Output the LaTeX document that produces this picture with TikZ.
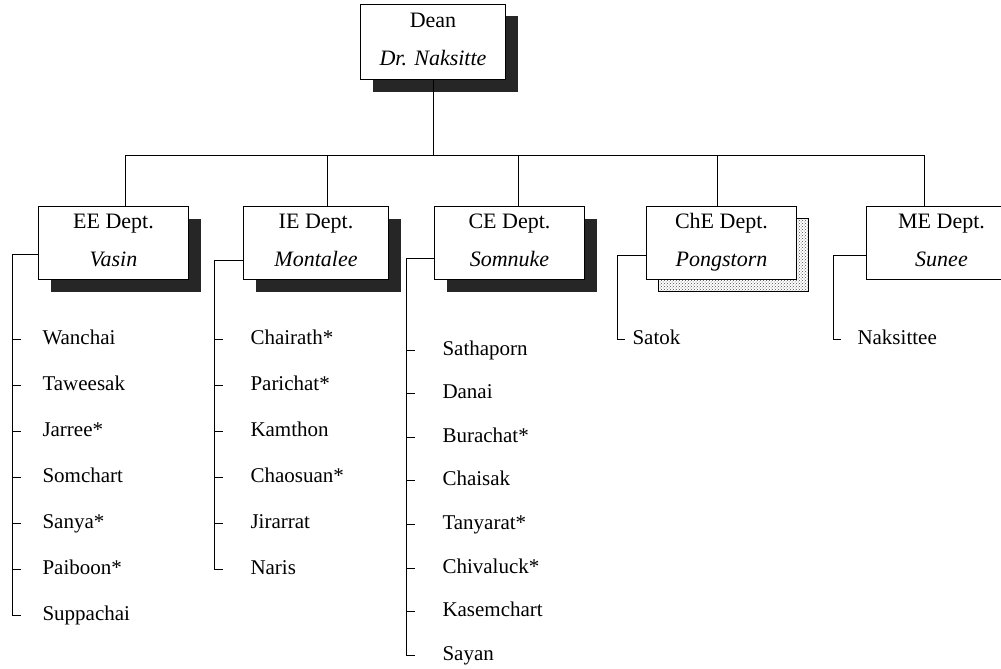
\documentclass[tikz,border=0pt]{standalone}
\usepackage{fontspec}
\setmainfont{Liberation Serif}
\usetikzlibrary{chains,positioning,shadows,patterns}
\newcommand{\lowpad}[1]{\rule[-#1]{0pt}{#1}}

\begin{document}
\begin{tikzpicture}[x=1pt,y=1pt]
\tikzset{every path/.style={line width=1pt},
deptbox/.style={draw,fill=white,minimum width=150pt,minimum height=73pt,
inner sep=0pt,align=center,font=\fontsize{22}{26}\selectfont},
darkshadow/.style={drop shadow={shadow xshift=12pt,shadow yshift=-12pt,
fill=black!85,opacity=1}},
dotshadow/.style={drop shadow={shadow xshift=12pt,shadow yshift=-12pt,
opacity=1,draw=black,line width=0.6pt,pattern=crosshatch dots,pattern color=black!70}},
member/.style={text width=130pt,align=left,inner sep=0pt,
text height=15pt,text depth=5pt,font=\fontsize{21}{24}\selectfont}}
\useasboundingbox (0,0) rectangle (1001,-669);

\node[deptbox,darkshadow,anchor=north west,minimum width=145pt,minimum height=75pt]
 (dean) at (360,-4) {Dean\\[12pt]\textit{Dr. Naksitte}\lowpad{6pt}};

\node[deptbox,darkshadow,anchor=north west] (ee) at (38,-206) {EE Dept.\\[12pt]\textit{Vasin}\lowpad{6pt}};
\node[deptbox,darkshadow,minimum width=145pt,right=54pt of ee] (ie) {IE Dept.\\[12pt]\textit{Montalee}\lowpad{6pt}};
\node[deptbox,darkshadow,right=45pt of ie] (ce) {CE Dept.\\[12pt]\textit{Somnuke}\lowpad{6pt}};
\node[deptbox,dotshadow,right=61pt of ce] (che) {ChE Dept.\\[12pt]\textit{Pongstorn}\lowpad{6pt}};
\node[deptbox,right=69pt of che] (me) {ME Dept.\\[12pt]\textit{Sunee}\lowpad{6pt}};

% bus line
\coordinate (b-ee) at (125,-155);
\coordinate (b-ie) at (327,-155);
\coordinate (b-ce) at (518,-155);
\coordinate (b-che) at (717,-155);
\coordinate (b-me) at (924,-155);
\coordinate (bus) at (dean.south |- b-ee);

\path[draw] (dean.south) -- (bus)
(b-ee) -- (b-me)
(b-ee) -- (b-ee |- ee.north)
(b-ie) -- (b-ie |- ie.north)
(b-ce) -- (b-ce |- ce.north)
(b-che) -- (b-che |- che.north)
(b-me) -- (b-me |- me.north);

\begin{scope}[start chain=going below,node distance=0pt,
every node/.append style={on chain,minimum height=45pt}]
\node[member,anchor=west] (ee1) at (42,-339) {Wanchai};
\node[member] (ee2) {Taweesak};
\node[member] (ee3) {Jarree*};
\node[member] (ee4) {Somchart};
\node[member] (ee5) {Sanya*};
\node[member] (ee6) {Paiboon*};
\node[member] (ee7) {Suppachai};
\end{scope}

\begin{scope}[start chain=going below,node distance=0pt,
every node/.append style={on chain,minimum height=45pt}]
\node[member,anchor=west] (ie1) at (250,-339) {Chairath*};
\node[member] (ie2) {Parichat*};
\node[member] (ie3) {Kamthon};
\node[member] (ie4) {Chaosuan*};
\node[member] (ie5) {Jirarrat};
\node[member] (ie6) {Naris};
\end{scope}

\begin{scope}[start chain=going below,node distance=0pt,
every node/.append style={on chain,minimum height=42.6pt}]
\node[member,anchor=west] (ce1) at (442,-350) {Sathaporn};
\node[member] (ce2) {Danai};
\node[member] (ce3) {Burachat*};
\node[member] (ce4) {Chaisak};
\node[member] (ce5) {Tanyarat*};
\node[member] (ce6) {Chivaluck*};
\node[member] (ce7) {Kasemchart};
\node[member] (ce8) {Sayan};
\end{scope}

\node[member,anchor=west] (che1) at (632,-339) {Satok};
\node[member,anchor=west] (me1) at (857,-339) {Naksittee};

% brackets
\coordinate (ee-br) at (12,-254);
\coordinate (ie-br) at (214,-260);
\coordinate (ce-br) at (406,-258);
\coordinate (che-br) at (617,-255);
\coordinate (me-br) at (833,-255);

\path[draw] (ee.west |- ee-br) -- (ee-br) -- (ee-br |- ee7) -- +(9,0)
(ee-br |- ee1) -- +(9,0) (ee-br |- ee2) -- +(9,0) (ee-br |- ee3) -- +(9,0)
(ee-br |- ee4) -- +(9,0) (ee-br |- ee5) -- +(9,0) (ee-br |- ee6) -- +(9,0);

\path[draw] (ie.west |- ie-br) -- (ie-br) -- (ie-br |- ie6) -- +(9,0)
(ie-br |- ie1) -- +(9,0) (ie-br |- ie2) -- +(9,0) (ie-br |- ie3) -- +(9,0)
(ie-br |- ie4) -- +(9,0) (ie-br |- ie5) -- +(9,0);

\path[draw] (ce.west |- ce-br) -- (ce-br) -- (ce-br |- ce8) -- +(9,0)
(ce-br |- ce1) -- +(9,0) (ce-br |- ce2) -- +(9,0) (ce-br |- ce3) -- +(9,0)
(ce-br |- ce4) -- +(9,0) (ce-br |- ce5) -- +(9,0) (ce-br |- ce6) -- +(9,0)
(ce-br |- ce7) -- +(9,0);

\path[draw] (che.west |- che-br) -- (che-br) -- (che-br |- che1) -- +(8,0);
\path[draw] (me.west |- me-br) -- (me-br) -- (me-br |- me1) -- +(8,0);
\end{tikzpicture}
\end{document}
